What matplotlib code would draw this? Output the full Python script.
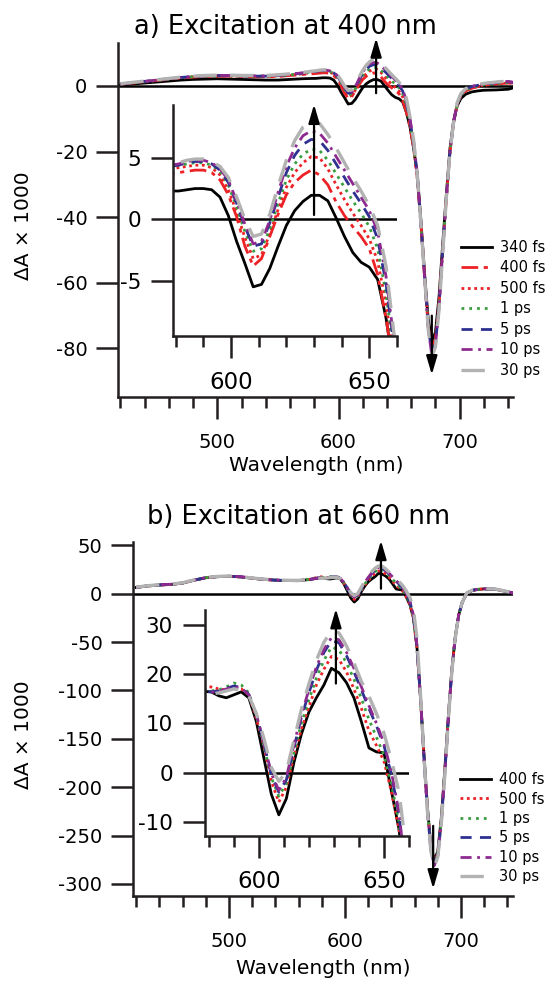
import matplotlib
matplotlib.use("Agg")
import matplotlib.pyplot as plt
from matplotlib.ticker import MultipleLocator

plt.rcParams['font.family'] = ['DejaVu Sans']
plt.rcParams['axes.unicode_minus'] = False

W, H = 547, 981

# wavelength grid (nm), shared by every trace
wavelength = [420, 430, 440, 450, 460, 470, 480, 490, 500, 510, 520, 530, 540, 550, 560, 570,
              578, 581, 584, 587, 590, 593, 596, 599, 602, 605, 608, 611, 614, 617, 620, 623,
              626, 629, 632, 635, 638, 641, 644, 647, 650, 653, 656, 659, 662,
              665, 668, 671, 674, 677, 680, 683, 686, 689, 692, 695, 698, 701,
              705, 710, 715, 720, 730, 740, 745]

# ---- a) excitation at 400 nm ----
a_labels = ['340 fs', '400 fs', '500 fs', '1 ps', '5 ps', '10 ps', '30 ps']
a_340fs = [0.3, 0.6, 0.9, 1.2, 1.5, 1.8, 2.0, 2.1, 2.2, 2.1, 2.0, 1.9, 1.8, 1.8, 2.0, 2.2,
           2.3, 2.3, 2.4, 2.5, 2.5, 2.4, 1.8, 0.3, -1.8, -3.6, -5.5, -5.3, -4.0, -2.2, -0.5, 0.7,
           1.45, 1.95, 1.95, 1.5, 0.1, -1.4, -2.7, -3.5, -3.9, -4.9, -8.0, -12.5, -19.0,
           -27, -41, -57, -71, -78, -75, -64, -48, -33, -19, -10.5, -6, -3.8,
           -2.5, -1.8, -1.5, -1.3, -1.2, -1.0, -0.5]
a_400fs = [0.5, 0.9, 1.3, 1.7, 2.0, 2.4, 2.7, 2.9, 3.0, 3.0, 2.9, 2.8, 2.8, 2.9, 3.2, 3.5,
           3.7, 3.8, 3.9, 4.0, 4.0, 3.8, 3.2, 2.0, 0.2, -2.2, -3.8, -3.2, -1.4, 0.4, 2.0, 3.0,
           3.6, 4.0, 3.6, 2.8, 1.4, 0.3, -0.6, -1.4, -2.4, -4.5, -8.0, -12.5, -19.0,
           -28, -42, -58, -73, -80, -77, -66, -50, -34, -20, -11, -5.5, -3,
           -1.5, -0.7, -0.2, 0.2, 0.6, 0.9, 0.7]
a_500fs = [0.5, 0.9, 1.3, 1.7, 2.1, 2.5, 2.8, 3.0, 3.1, 3.1, 3.0, 2.9, 2.9, 3.0, 3.3, 3.7,
           4.1, 4.2, 4.3, 4.4, 4.4, 4.2, 3.6, 2.4, 0.6, -1.5, -3.2, -2.9, -1.2, 0.8, 2.6, 3.8,
           4.6, 5.1, 5.0, 4.1, 2.8, 1.6, 0.5, -0.5, -1.6, -3.4, -6.8, -11.5, -18.5,
           -28, -42, -58, -73, -80.5, -77.5, -66, -50, -34, -20, -11, -5.5, -3,
           -1.4, -0.6, -0.1, 0.3, 0.7, 1.0, 0.8]
a_1ps = [0.5, 0.9, 1.3, 1.7, 2.1, 2.5, 2.8, 3.0, 3.1, 3.1, 3.0, 3.0, 3.0, 3.1, 3.4, 3.8,
         4.3, 4.4, 4.5, 4.6, 4.6, 4.4, 3.9, 2.8, 1.0, -1.0, -2.6, -2.4, -0.8, 1.3, 3.2, 4.5,
         5.3, 5.7, 5.6, 4.8, 3.7, 2.6, 1.5, 0.5, -0.6, -2.4, -6.0, -11.0, -18.0,
         -28, -42, -58, -73, -81, -78, -66, -50, -34, -20, -11, -5.5, -2.8,
         -1.2, -0.4, 0.0, 0.4, 0.8, 1.1, 0.9]
a_5ps = [0.6, 1.0, 1.4, 1.8, 2.2, 2.6, 2.9, 3.1, 3.2, 3.2, 3.1, 3.0, 3.0, 3.2, 3.5, 3.9,
         4.3, 4.4, 4.6, 4.7, 4.7, 4.5, 4.0, 3.0, 1.3, -0.6, -2.2, -2.0, -0.3, 1.8, 3.8, 5.2,
         6.1, 6.5, 6.4, 5.6, 4.5, 3.4, 2.3, 1.3, 0.2, -1.6, -5.2, -10.5, -17.5,
         -27, -42, -58, -73, -81.5, -78.5, -67, -50, -34, -20, -11, -5.3, -2.6,
         -1.0, -0.2, 0.2, 0.6, 1.0, 1.3, 1.0]
a_10ps = [0.6, 1.0, 1.4, 1.8, 2.2, 2.6, 2.9, 3.1, 3.2, 3.2, 3.1, 3.1, 3.1, 3.3, 3.6, 4.0,
          4.4, 4.5, 4.7, 4.8, 4.8, 4.6, 4.1, 3.2, 1.5, -0.4, -2.0, -1.8, -0.1, 2.2, 4.3, 5.8,
          6.8, 7.2, 7.0, 6.2, 5.1, 4.0, 2.9, 1.8, 0.7, -1.0, -4.6, -10.0, -17.0,
          -27, -42, -58, -74, -82, -79, -67, -50, -34, -20, -11, -5.2, -2.5,
          -0.9, -0.1, 0.3, 0.7, 1.1, 1.4, 1.1]
a_30ps = [0.7, 1.1, 1.5, 1.9, 2.3, 2.7, 3.0, 3.2, 3.3, 3.3, 3.2, 3.2, 3.2, 3.4, 3.7, 4.1,
          4.5, 4.6, 4.8, 4.9, 4.9, 4.7, 4.3, 3.4, 1.8, 0.0, -1.4, -1.2, 0.4, 2.7, 4.8, 6.4,
          7.5, 8.0, 7.8, 6.9, 5.8, 4.6, 3.4, 2.3, 1.1, -0.5, -3.8, -9.5, -16.5,
          -27, -42, -58, -74, -82.5, -79.5, -68, -51, -34, -20, -11, -5, -2.3,
          -0.8, 0.0, 0.4, 0.8, 1.2, 1.5, 1.2]

# ---- b) excitation at 660 nm ----
b_labels = ['400 fs', '500 fs', '1 ps', '5 ps', '10 ps', '30 ps']
b_400fs = [6.5, 8.0, 9.0, 9.6, 11.0, 14.0, 16.5, 17.6, 18.0, 17.4, 16.0, 14.8, 14.0, 13.6, 13.5, 14.8,
           16.5, 16.4, 15.6, 15.2, 15.8, 16.4, 15.2, 10.4, 3.0, -4.4, -8.6, -5.3, 2.0, 7.8, 12.3, 15.2,
           17.8, 21.2, 20.3, 18.3, 15.2, 10.3, 5.0, 4.2, 4.0, -3.8, -11.5, -25, -55,
           -105, -165, -220, -260, -276, -266, -232, -182, -128, -80, -45, -22, -9,
           0.5, 3.5, 4.5, 5.0, 4.5, 2.0, 0.5]
b_500fs = [6.5, 8.0, 9.0, 9.6, 11.0, 14.0, 16.5, 17.6, 18.0, 17.4, 16.0, 14.8, 14.0, 13.6, 13.5, 15.0,
           17.5, 17.4, 17.0, 16.8, 17.0, 17.0, 15.8, 11.0, 5.5, -1.8, -6.0, -3.0, 3.2, 8.8, 13.3, 17.8,
           21.0, 23.6, 23.0, 20.5, 17.0, 13.0, 8.5, 5.5, 2.3, -4.0, -11.5, -26, -56,
           -107, -167, -222, -262, -278, -268, -234, -184, -129, -80, -45, -22, -9,
           0.5, 3.5, 4.6, 5.0, 4.5, 2.0, 0.5]
b_1ps = [6.6, 8.1, 9.1, 9.7, 11.1, 14.1, 16.6, 17.7, 18.1, 17.5, 16.1, 14.9, 14.1, 13.7, 13.6, 15.0,
         16.8, 16.6, 16.8, 17.4, 18.2, 17.8, 16.2, 11.5, 5.5, -1.0, -4.8, -2.2, 4.0, 10.0, 14.8, 19.2,
         22.8, 25.5, 25.0, 22.3, 19.0, 15.0, 10.8, 7.2, 3.5, -2.5, -10, -25, -55,
         -107, -168, -223, -263, -279, -269, -235, -185, -130, -81, -45, -22, -9,
         0.6, 3.6, 4.7, 5.1, 4.6, 2.1, 0.6]
b_5ps = [6.6, 8.1, 9.1, 9.7, 11.1, 14.1, 16.6, 17.7, 18.1, 17.5, 16.1, 14.9, 14.1, 13.7, 13.6, 14.9,
         16.5, 16.4, 16.6, 17.1, 17.6, 17.3, 15.9, 11.8, 6.0, -0.5, -4.0, -1.5, 5.0, 11.2, 16.2, 20.8,
         24.4, 26.8, 26.4, 23.8, 20.5, 16.8, 13.0, 9.5, 5.5, -0.5, -8.5, -23, -54,
         -107, -168, -224, -264, -280, -270, -236, -186, -131, -81, -45, -22, -9,
         0.6, 3.6, 4.7, 5.1, 4.6, 2.1, 0.6]
b_10ps = [6.7, 8.2, 9.2, 9.8, 11.2, 14.2, 16.7, 17.8, 18.2, 17.6, 16.2, 15.0, 14.2, 13.8, 13.7, 14.9,
          16.4, 16.3, 16.5, 17.0, 17.4, 17.2, 15.8, 11.8, 6.2, -0.2, -3.6, -1.0, 5.6, 11.8, 16.8, 21.5,
          25.0, 27.4, 27.0, 24.5, 21.2, 17.4, 13.6, 10.0, 6.0, 0.0, -8.0, -22, -53,
          -106, -168, -224, -265, -281, -271, -237, -187, -131, -81, -45, -22, -9,
          0.7, 3.7, 4.8, 5.2, 4.7, 2.2, 0.7]
b_30ps = [6.8, 8.3, 9.3, 9.9, 11.3, 14.3, 16.8, 17.9, 18.3, 17.7, 16.3, 15.1, 14.3, 13.9, 13.8, 14.9,
          16.0, 16.0, 16.2, 16.6, 17.0, 16.8, 15.6, 12.0, 7.0, 1.0, -1.8, 0.2, 6.5, 12.8, 18.0, 22.8,
          26.5, 28.8, 28.4, 25.8, 22.3, 18.5, 15.5, 12.0, 8.0, 2.5, -4.0, -16, -46,
          -102, -166, -224, -266, -282, -272, -238, -188, -132, -82, -46, -22, -9,
          0.8, 3.8, 4.9, 5.3, 4.8, 2.3, 0.8]

a_series = [a_340fs, a_400fs, a_500fs, a_1ps, a_5ps, a_10ps, a_30ps]
b_series = [b_400fs, b_500fs, b_1ps, b_5ps, b_10ps, b_30ps]

# line styles (color, dash pattern, width)
RED, GREEN, NAVY, PURPLE, GRAY = '#ec2227', '#3a9d3f', '#2f3190', '#8e2a8f', '#b2b2b2'
black_st = dict(color='black', ls='-', lw=2.0)
a_styles = [black_st,
            dict(color=RED, ls=(0, (6, 2, 1.5, 2)), lw=2.0),
            dict(color=RED, ls=(0, (1, 1.3)), lw=2.0),
            dict(color=GREEN, ls=(0, (1, 1.8)), lw=2.0),
            dict(color=NAVY, ls=(0, (4, 3)), lw=2.0),
            dict(color=PURPLE, ls=(0, (4, 2, 1, 2)), lw=2.0),
            dict(color=GRAY, ls=(0, (7, 4)), lw=2.4)]
b_styles = [black_st] + a_styles[2:]


def px_rect(left, top, right, bottom):
    return [left / W, 1 - bottom / H, (right - left) / W, (bottom - top) / H]


def px(x, y):
    return x / W, 1 - y / H


def style_axes(ax, xlim, ylim, xminor, yticks, xfs, yfs, xpad, ypad):
    ax.set_xlim(*xlim)
    ax.set_ylim(*ylim)
    ax.spines['top'].set_visible(False)
    ax.spines['right'].set_visible(False)
    for s in ('left', 'bottom'):
        ax.spines[s].set_linewidth(1.8)
        ax.spines[s].set_color('#231f20')
    ax.xaxis.set_minor_locator(MultipleLocator(xminor))
    ax.set_yticks(yticks)
    ax.tick_params(which='major', direction='out', length=16, width=1.8, color='#231f20')
    ax.tick_params(which='minor', direction='out', length=8, width=1.8, color='#231f20')
    ax.tick_params(axis='x', labelsize=xfs, pad=xpad)
    ax.tick_params(axis='y', labelsize=yfs, pad=ypad)
    ax.axhline(0, color='black', lw=1.8, zorder=1)


def draw(ax, series, styles, labels):
    lines = []
    for ys, st, lab in zip(series, styles, labels):
        ln, = ax.plot(wavelength, ys, label=lab, zorder=2, **st)
        lines.append(ln)
    return lines


def arrow(ax, x, y0, y1):
    ax.annotate('', xy=(x, y1), xytext=(x, y0), annotation_clip=False, zorder=5,
                arrowprops=dict(arrowstyle='-|>,head_length=0.75,head_width=0.22',
                                color='black', lw=1.6, mutation_scale=15,
                                shrinkA=0, shrinkB=0))


fig = plt.figure(figsize=(W / 100, H / 100), dpi=100)

# ---------------- panel a ----------------
axA = fig.add_axes(px_rect(118, 43, 513, 397))
lines_a = draw(axA, a_series, a_styles, a_labels)
style_axes(axA, (418, 744), (-94.8, 13.1), 20, [0, -20, -40, -60, -80], 14, 14, 10, 6)
axA.xaxis.set_major_locator(MultipleLocator(100))
arrow(axA, 631, -2.2, 14.6)
arrow(axA, 677, -70, -88)

insA = fig.add_axes(px_rect(173, 105, 397, 336), facecolor='none')
draw(insA, a_series, a_styles, a_labels)
style_axes(insA, (579, 660), (-9.5, 9.3), 10, [-5, 0, 5], 16.5, 15.5, 9, 7)
insA.xaxis.set_major_locator(MultipleLocator(50))
arrow(insA, 630, 0.35, 9.35)

fig.legend(lines_a, a_labels, loc='lower left', bbox_to_anchor=px(461, 378),
           frameon=False, fontsize=10.5, handlelength=2.1, handletextpad=0.6,
           labelspacing=0.38, borderpad=0, borderaxespad=0)

fig.text(*px(285, 27), 'a) Excitation at 400 nm', fontsize=18.5, ha='center', va='center')
fig.text(*px(316, 466), 'Wavelength (nm)', fontsize=14.5, ha='center', va='center')
fig.text(*px(24, 226), 'ΔA × 1000', fontsize=14.5, rotation=90, ha='center', va='center')

# ---------------- panel b ----------------
axB = fig.add_axes(px_rect(133, 542, 513, 895.5))
lines_b = draw(axB, b_series, b_styles, b_labels)
style_axes(axB, (417.3, 744.8), (-312, 53.5), 20, [50, 0, -50, -100, -150, -200, -250, -300],
           14, 14, 10, 6)
axB.xaxis.set_major_locator(MultipleLocator(100))
arrow(axB, 631, 5.2, 55)
arrow(axB, 676, -240, -305)

insB = fig.add_axes(px_rect(205, 610, 409, 835.5), facecolor='none')
draw(insB, b_series, b_styles, b_labels)
style_axes(insB, (578.5, 660), (-12.8, 33.05), 10, [-10, 0, 10, 20, 30], 16.5, 15.5, 9, 7)
insB.xaxis.set_major_locator(MultipleLocator(50))
arrow(insB, 630.8, 18.1, 33.3)

fig.legend(lines_b, b_labels, loc='lower left', bbox_to_anchor=px(460, 884),
           frameon=False, fontsize=10.5, handlelength=2.1, handletextpad=0.6,
           labelspacing=0.3, borderpad=0, borderaxespad=0)

fig.text(*px(299, 517), 'b) Excitation at 660 nm', fontsize=18.5, ha='center', va='center')
fig.text(*px(323, 968), 'Wavelength (nm)', fontsize=14.5, ha='center', va='center')
fig.text(*px(24, 735), 'ΔA × 1000', fontsize=14.5, rotation=90, ha='center', va='center')

fig.savefig('out.png', dpi=100)
